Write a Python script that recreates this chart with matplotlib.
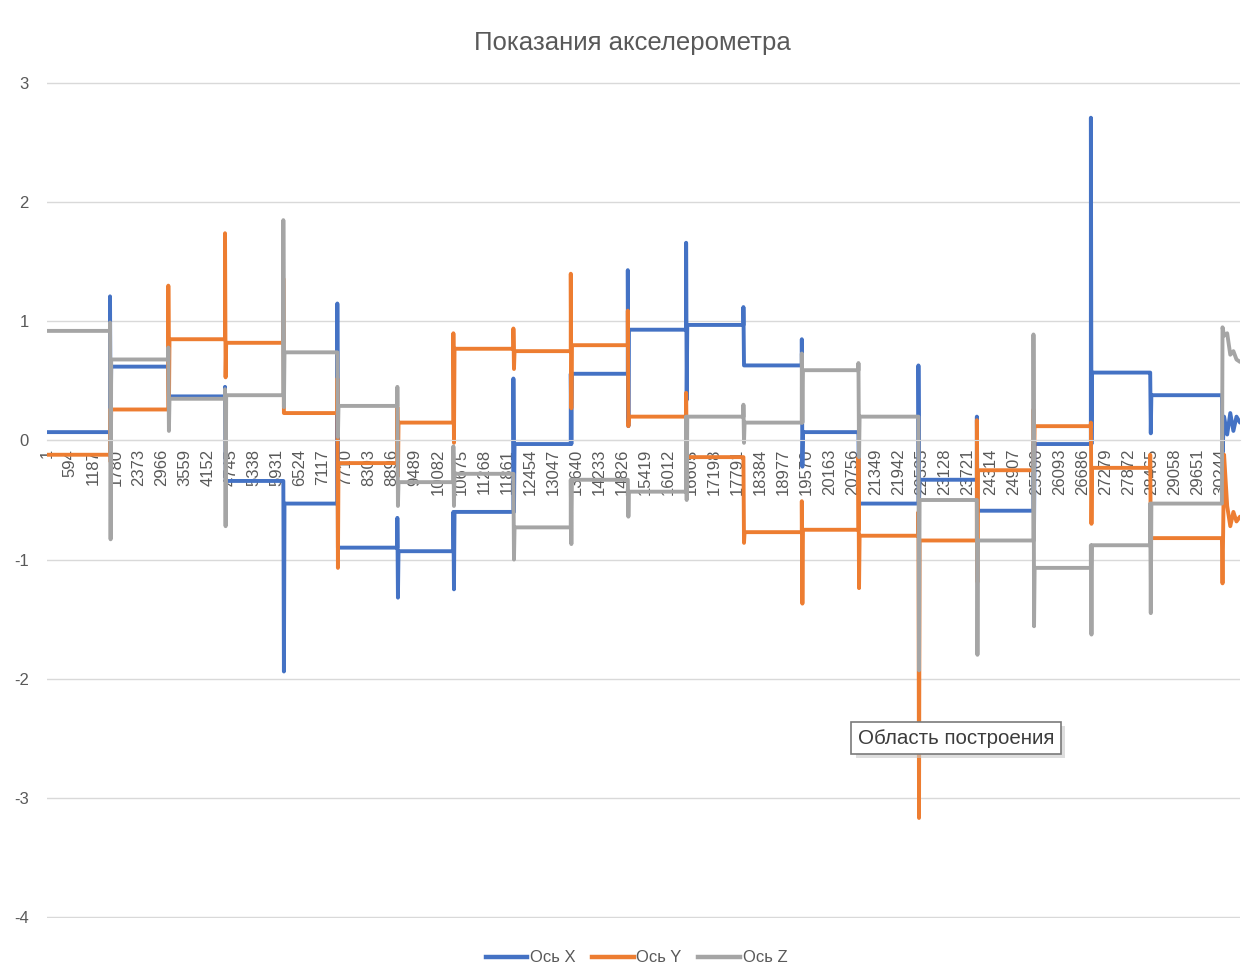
import matplotlib.pyplot as plt
import matplotlib.patheffects as pe
from matplotlib.lines import Line2D

plt.rcParams["font.family"] = ["Liberation Sans", "DejaVu Sans"]
plt.rcParams["axes.unicode_minus"] = False

# ------------------------------------------------------------
# Accelerometer log (g), one sample per row of the sheet
# ------------------------------------------------------------

n_samples = 30750

# sample numbers where the board was turned to a new position
switch_idx = [1625, 3128, 4589, 6092, 7484, 9031, 10475, 12022, 13501, 14971,
              16474, 17951, 19456, 20916, 22462, 23968, 25427, 26907, 28436]

# resting level of each axis between turns
level_x = [0.07, 0.62, 0.37, -0.34, -0.53, -0.90, -0.93, -0.60, -0.03, 0.56,
           0.93, 0.97, 0.63, 0.07, -0.53, -0.33, -0.59, -0.03, 0.57, 0.38]
level_y = [-0.12, 0.26, 0.85, 0.82, 0.23, -0.19, 0.15, 0.77, 0.75, 0.80,
           0.20, -0.14, -0.77, -0.75, -0.80, -0.84, -0.25, 0.12, -0.23, -0.82]
level_z = [0.92, 0.68, 0.35, 0.38, 0.74, 0.29, -0.35, -0.28, -0.73, -0.33,
           -0.43, 0.20, 0.15, 0.59, 0.20, -0.50, -0.84, -1.07, -0.88, -0.53]

# peak values reached while the board was being turned
peak_hi_x = [1.21, 0.62, 0.45, -0.34, 1.15, -0.65, -0.60, 0.52, 0.56, 1.43,
             1.66, 1.12, 0.85, 0.07, 0.63, 0.20, -0.03, 2.71, 0.57]
peak_lo_x = [0.00, 0.37, -0.34, -1.94, -0.90, -1.32, -1.25, -0.60, -0.03, 0.12,
             0.34, 0.63, -0.22, -0.53, -0.53, -0.59, -0.72, -0.03, 0.06]
peak_hi_y = [0.26, 1.30, 1.74, 1.36, 0.52, 0.28, 0.90, 0.94, 1.40, 1.09,
             0.40, -0.14, -0.51, -0.14, -0.60, 0.17, 0.26, 0.15, -0.12]
peak_lo_y = [-0.18, 0.26, 0.53, 0.23, -1.07, -0.30, -0.02, 0.60, 0.27, 0.12,
             -0.14, -0.86, -1.37, -1.24, -3.17, -1.19, -0.25, -0.70, -0.82]
peak_hi_z = [0.99, 0.78, 0.43, 1.85, 0.74, 0.45, -0.05, -0.28, -0.33, -0.33,
             0.20, 0.30, 0.73, 0.65, 0.20, -0.50, 0.89, -0.88, -0.53]
peak_lo_z = [-0.83, 0.08, -0.72, 0.28, 0.03, -0.55, -0.55, -1.00, -0.87, -0.64,
             -0.50, -0.02, 0.15, -0.14, -1.93, -1.80, -1.56, -1.63, -1.45]

# last turn at the end of the log
tail_idx = [30284, 30300, 30340, 30420, 30500, 30580, 30660, 30750]
tail_x = [0.38, -0.10, 0.20, 0.05, 0.23, 0.08, 0.20, 0.15]
tail_y = [-0.82, -1.20, -0.12, -0.55, -0.72, -0.60, -0.68, -0.64]
tail_z = [-0.53, 0.95, 0.88, 0.90, 0.72, 0.75, 0.68, 0.66]

tick_labels = [1, 594, 1187, 1780, 2373, 2966, 3559, 4152, 4745, 5338, 5931,
               6524, 7117, 7710, 8303, 8896, 9489, 10082, 10675, 11268, 11861,
               12454, 13047, 13640, 14233, 14826, 15419, 16012, 16605, 17198,
               17791, 18384, 18977, 19570, 20163, 20756, 21349, 21942, 22535,
               23128, 23721, 24314, 24907, 25500, 26093, 26686, 27279, 27872,
               28465, 29058, 29651, 30244]

series_names = ["Ось X", "Ось Y", "Ось Z"]
series_colors = ["#4472C4", "#ED7D31", "#A5A5A5"]


def build_series(levels, hi, lo, tail):
    xs = [1]
    ys = [levels[0]]
    for k, s in enumerate(switch_idx):
        xs += [s - 1, s, s + 15, s + 30]
        ys += [levels[k], hi[k], lo[k], levels[k + 1]]
    xs += tail_idx
    ys += tail
    return xs, ys


series = [
    build_series(level_x, peak_hi_x, peak_lo_x, tail_x),
    build_series(level_y, peak_hi_y, peak_lo_y, tail_y),
    build_series(level_z, peak_hi_z, peak_lo_z, tail_z),
]

# ------------------------------------------------------------
# Figure
# ------------------------------------------------------------

W, H = 1243, 965
fig = plt.figure(figsize=(W / 100, H / 100), dpi=100)
ax = fig.add_axes([47 / W, 1 - 918 / H, (1240 - 47) / W, (918 - 82) / H])

for (xs, ys), color in zip(series, series_colors):
    ax.plot(xs, ys, color=color, lw=2.8, solid_capstyle="round")

ax.set_xlim(0.5, n_samples + 0.5)
ax.set_ylim(-4.01, 3.01)
ax.set_yticks(range(-4, 4))
ax.grid(axis="y", color="#d9d9d9", lw=1.0)

for side in ["top", "right", "left"]:
    ax.spines[side].set_visible(False)
ax.spines["bottom"].set_position(("data", 0))
ax.spines["bottom"].set_color("#d9d9d9")

ax.set_xticks(tick_labels)
ax.set_xticklabels([str(v) for v in tick_labels], rotation=90, va="top")
ax.tick_params(axis="x", length=0, pad=6, labelsize=12, labelcolor="#595959")
ax.tick_params(axis="y", length=0, pad=13, labelsize=12, labelcolor="#595959")

fig.text(0.5088, 1 - 43 / H, "Показания акселерометра", ha="center",
         va="center", fontsize=18.5, color="#595959")

handles = [Line2D([], [], color=c, lw=3.2) for c in series_colors]
fig.legend(handles, series_names, loc="lower center", ncol=3, frameon=False,
           bbox_to_anchor=(0.512, -0.016), fontsize=12, handlelength=2.5,
           handletextpad=0.15, columnspacing=1.0, labelcolor="#595959")

# hover hint over the plot area
hint = fig.text(858 / W, 1 - 738 / H, "Область построения", fontsize=14.8,
                color="#3c3c3c", va="center", ha="left", zorder=6,
                bbox=dict(boxstyle="square,pad=0.32", fc="white",
                          ec="#7a7a7a", lw=1.2))
hint.get_bbox_patch().set_path_effects(
    [pe.SimplePatchShadow(offset=(3, -3), shadow_rgbFace="#c8c8c8", alpha=0.6),
     pe.Normal()])

fig.savefig("out.png", dpi=100)
